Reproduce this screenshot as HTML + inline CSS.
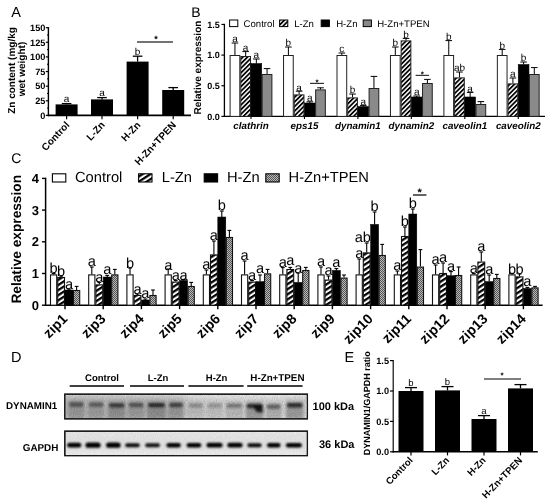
<!DOCTYPE html>
<html><head><meta charset="utf-8"><title>Figure</title>
<style>
html,body{margin:0;padding:0;background:#fff;}
body{width:550px;height:504px;overflow:hidden;font-family:"Liberation Sans",sans-serif;}
svg{display:block;font-family:"Liberation Sans",sans-serif;filter:blur(0.3px);}
</style></head><body>
<svg width="550" height="504" viewBox="0 0 550 504" text-rendering="geometricPrecision">
<defs>
<pattern id="hB" width="3.25" height="3.25" patternUnits="userSpaceOnUse" patternTransform="rotate(-45)">
<rect width="3.25" height="3.25" fill="#fff"/><rect y="0" width="3.25" height="1.75" fill="#000"/></pattern>
<pattern id="hC" width="4.28" height="4.28" patternUnits="userSpaceOnUse" patternTransform="rotate(-33)">
<rect width="4.28" height="4.28" fill="#fff"/><rect y="0" width="4.28" height="2.25" fill="#000"/></pattern>
<pattern id="dot" width="2" height="2" patternUnits="userSpaceOnUse">
<rect width="2" height="2" fill="#b8b8b8"/><rect width="1" height="1" fill="#555"/><rect x="1" y="1" width="1" height="1" fill="#555"/></pattern>
<filter id="bl1" x="-20%" y="-100%" width="140%" height="300%"><feGaussianBlur stdDeviation="1.3 1.2"/></filter>
<filter id="bl2" x="-20%" y="-100%" width="140%" height="300%"><feGaussianBlur stdDeviation="1.1 0.8"/></filter>
<filter id="bl3" x="-20%" y="-50%" width="140%" height="200%"><feGaussianBlur stdDeviation="1.7 2.4"/></filter>
<filter id="noise" x="0" y="0" width="100%" height="100%"><feTurbulence type="fractalNoise" baseFrequency="0.9" numOctaves="2" seed="3"/><feColorMatrix type="matrix" values="0 0 0 0 0  0 0 0 0 0  0 0 0 0 0  1.6 0 0 0 -0.35"/></filter>
<linearGradient id="bg1" x1="0" y1="0" x2="0" y2="1"><stop offset="0" stop-color="#e6e6e6"/><stop offset="0.22" stop-color="#cdcdcd"/><stop offset="0.75" stop-color="#c6c6c6"/><stop offset="1" stop-color="#d6d6d6"/></linearGradient>
<linearGradient id="bgh" x1="0" y1="0" x2="1" y2="0"><stop offset="0" stop-color="#888" stop-opacity="0.22"/><stop offset="0.45" stop-color="#888" stop-opacity="0.12"/><stop offset="0.52" stop-color="#fff" stop-opacity="0.25"/><stop offset="0.75" stop-color="#fff" stop-opacity="0.4"/><stop offset="1" stop-color="#fff" stop-opacity="0.3"/></linearGradient>
<linearGradient id="bg2" x1="0" y1="0" x2="0" y2="1"><stop offset="0" stop-color="#e9e9e9"/><stop offset="0.6" stop-color="#e4e4e4"/><stop offset="1" stop-color="#f0f0f0"/></linearGradient>
</defs>
<rect width="550" height="504" fill="#fff"/>

<g id="panelA">
<text x="11.20" y="17.20" font-size="14.5" font-weight="normal" font-style="normal" text-anchor="start" fill="#000" >A</text>
<line x1="48.40" y1="27.10" x2="48.40" y2="116.20" stroke="#000" stroke-width="1.4"/>
<line x1="47.70" y1="115.40" x2="191.00" y2="115.40" stroke="#000" stroke-width="1.6"/>
<line x1="45.80" y1="115.40" x2="48.40" y2="115.40" stroke="#000" stroke-width="1.2"/>
<text x="45.40" y="118.65" font-size="9.2" font-weight="bold" font-style="normal" text-anchor="end" fill="#000" >0</text>
<line x1="47.00" y1="108.10" x2="48.40" y2="108.10" stroke="#000" stroke-width="1.0"/>
<line x1="45.80" y1="100.78" x2="48.40" y2="100.78" stroke="#000" stroke-width="1.2"/>
<text x="45.40" y="104.03" font-size="9.2" font-weight="bold" font-style="normal" text-anchor="end" fill="#000" >25</text>
<line x1="47.00" y1="93.48" x2="48.40" y2="93.48" stroke="#000" stroke-width="1.0"/>
<line x1="45.80" y1="86.16" x2="48.40" y2="86.16" stroke="#000" stroke-width="1.2"/>
<text x="45.40" y="89.41" font-size="9.2" font-weight="bold" font-style="normal" text-anchor="end" fill="#000" >50</text>
<line x1="47.00" y1="78.86" x2="48.40" y2="78.86" stroke="#000" stroke-width="1.0"/>
<line x1="45.80" y1="71.54" x2="48.40" y2="71.54" stroke="#000" stroke-width="1.2"/>
<text x="45.40" y="74.79" font-size="9.2" font-weight="bold" font-style="normal" text-anchor="end" fill="#000" >75</text>
<line x1="47.00" y1="64.24" x2="48.40" y2="64.24" stroke="#000" stroke-width="1.0"/>
<line x1="45.80" y1="56.92" x2="48.40" y2="56.92" stroke="#000" stroke-width="1.2"/>
<text x="45.40" y="60.17" font-size="9.2" font-weight="bold" font-style="normal" text-anchor="end" fill="#000" >100</text>
<line x1="47.00" y1="49.62" x2="48.40" y2="49.62" stroke="#000" stroke-width="1.0"/>
<line x1="45.80" y1="42.30" x2="48.40" y2="42.30" stroke="#000" stroke-width="1.2"/>
<text x="45.40" y="45.55" font-size="9.2" font-weight="bold" font-style="normal" text-anchor="end" fill="#000" >125</text>
<line x1="47.00" y1="35.00" x2="48.40" y2="35.00" stroke="#000" stroke-width="1.0"/>
<line x1="45.80" y1="27.68" x2="48.40" y2="27.68" stroke="#000" stroke-width="1.2"/>
<text x="45.40" y="30.93" font-size="9.2" font-weight="bold" font-style="normal" text-anchor="end" fill="#000" >150</text>
<line x1="66.60" y1="103.60" x2="66.60" y2="104.40" stroke="#000" stroke-width="1.3"/>
<line x1="61.80" y1="103.60" x2="71.40" y2="103.60" stroke="#000" stroke-width="1.3"/>
<rect x="55.60" y="104.40" width="22.00" height="11.00" fill="#000" stroke="none" stroke-width="0"/>
<line x1="66.60" y1="115.40" x2="66.60" y2="119.20" stroke="#000" stroke-width="1.2"/>
<text x="66.60" y="102.40" font-size="10" font-weight="normal" font-style="normal" text-anchor="middle" fill="#000" >a</text>
<line x1="102.00" y1="97.60" x2="102.00" y2="99.40" stroke="#000" stroke-width="1.3"/>
<line x1="97.20" y1="97.60" x2="106.80" y2="97.60" stroke="#000" stroke-width="1.3"/>
<rect x="91.00" y="99.40" width="22.00" height="16.00" fill="#000" stroke="none" stroke-width="0"/>
<line x1="102.00" y1="115.40" x2="102.00" y2="119.20" stroke="#000" stroke-width="1.2"/>
<text x="102.00" y="96.40" font-size="10" font-weight="normal" font-style="normal" text-anchor="middle" fill="#000" >a</text>
<line x1="137.60" y1="56.20" x2="137.60" y2="61.60" stroke="#000" stroke-width="1.3"/>
<line x1="132.80" y1="56.20" x2="142.40" y2="56.20" stroke="#000" stroke-width="1.3"/>
<rect x="126.60" y="61.60" width="22.00" height="53.80" fill="#000" stroke="none" stroke-width="0"/>
<line x1="137.60" y1="115.40" x2="137.60" y2="119.20" stroke="#000" stroke-width="1.2"/>
<text x="137.60" y="55.00" font-size="10" font-weight="normal" font-style="normal" text-anchor="middle" fill="#000" >b</text>
<line x1="173.20" y1="87.60" x2="173.20" y2="90.00" stroke="#000" stroke-width="1.3"/>
<line x1="168.40" y1="87.60" x2="178.00" y2="87.60" stroke="#000" stroke-width="1.3"/>
<rect x="162.20" y="90.00" width="22.00" height="25.40" fill="#000" stroke="none" stroke-width="0"/>
<line x1="173.20" y1="115.40" x2="173.20" y2="119.20" stroke="#000" stroke-width="1.2"/>
<line x1="137.00" y1="42.00" x2="173.00" y2="42.00" stroke="#444" stroke-width="1.5"/>
<text x="156.00" y="41.60" font-size="9" font-weight="bold" font-style="normal" text-anchor="middle" fill="#000" >*</text>
<text transform="translate(70.10,125.40) rotate(-47) scale(1.0,1)" font-size="10" font-weight="bold" font-style="normal" text-anchor="end">Control</text>
<text transform="translate(105.50,125.40) rotate(-47) scale(1.0,1)" font-size="10" font-weight="bold" font-style="normal" text-anchor="end">L-Zn</text>
<text transform="translate(141.10,125.40) rotate(-47) scale(1.0,1)" font-size="10" font-weight="bold" font-style="normal" text-anchor="end">H-Zn</text>
<text transform="translate(176.70,125.40) rotate(-47) scale(1.0,1)" font-size="10" font-weight="bold" font-style="normal" text-anchor="end">H-Zn+TPEN</text>
<text transform="translate(14.60,70.50) rotate(-90) scale(1.0,1)" font-size="10" font-weight="bold" font-style="normal" text-anchor="middle">Zn content (mg/kg</text>
<text transform="translate(25.20,69.00) rotate(-90) scale(1.0,1)" font-size="10" font-weight="bold" font-style="normal" text-anchor="middle">wet weight)</text>
</g>
<g id="panelB">
<text x="191.20" y="16.80" font-size="14" font-weight="normal" font-style="normal" text-anchor="start" fill="#000" >B</text>
<line x1="224.40" y1="23.80" x2="224.40" y2="117.00" stroke="#000" stroke-width="1.3"/>
<line x1="223.80" y1="116.40" x2="545.00" y2="116.40" stroke="#000" stroke-width="1.4"/>
<line x1="221.40" y1="116.40" x2="224.40" y2="116.40" stroke="#000" stroke-width="1.2"/>
<text x="219.80" y="119.60" font-size="9" font-weight="bold" font-style="normal" text-anchor="end" fill="#000" >0.0</text>
<line x1="221.40" y1="85.75" x2="224.40" y2="85.75" stroke="#000" stroke-width="1.2"/>
<text x="219.80" y="88.95" font-size="9" font-weight="bold" font-style="normal" text-anchor="end" fill="#000" >0.5</text>
<line x1="221.40" y1="55.10" x2="224.40" y2="55.10" stroke="#000" stroke-width="1.2"/>
<text x="219.80" y="58.30" font-size="9" font-weight="bold" font-style="normal" text-anchor="end" fill="#000" >1.0</text>
<line x1="221.40" y1="24.45" x2="224.40" y2="24.45" stroke="#000" stroke-width="1.2"/>
<text x="219.80" y="27.65" font-size="9" font-weight="bold" font-style="normal" text-anchor="end" fill="#000" >1.5</text>
<text transform="translate(201.20,67.60) rotate(-90) scale(1.0,1)" font-size="10" font-weight="bold" font-style="normal" text-anchor="middle">Relative expression</text>
<rect x="229.60" y="20.00" width="8.20" height="6.60" fill="#fff" stroke="#000" stroke-width="1.0"/>
<text x="243.60" y="26.80" font-size="9.6" font-weight="normal" font-style="normal" text-anchor="start" fill="#000" >Control</text>
<rect x="279.60" y="20.00" width="8.20" height="6.60" fill="url(#hB)" stroke="#000" stroke-width="1.0"/>
<text x="294.20" y="26.80" font-size="9.6" font-weight="normal" font-style="normal" text-anchor="start" fill="#000" >L-Zn</text>
<rect x="321.20" y="20.00" width="8.20" height="6.60" fill="#000" stroke="#000" stroke-width="1.0"/>
<text x="336.20" y="26.80" font-size="9.6" font-weight="normal" font-style="normal" text-anchor="start" fill="#000" >H-Zn</text>
<rect x="363.20" y="20.00" width="8.20" height="6.60" fill="#888" stroke="#000" stroke-width="1.0"/>
<text x="377.20" y="26.80" font-size="9.6" font-weight="normal" font-style="normal" text-anchor="start" fill="#000" >H-Zn+TPEN</text>
<line x1="234.95" y1="43.00" x2="234.95" y2="55.00" stroke="#000" stroke-width="1.0"/>
<line x1="231.65" y1="43.00" x2="238.25" y2="43.00" stroke="#000" stroke-width="1.0"/>
<rect x="230.10" y="55.50" width="9.70" height="60.90" fill="#fff" stroke="#222" stroke-width="1.0"/>
<text x="234.95" y="42.40" font-size="10" font-weight="normal" font-style="normal" text-anchor="middle" fill="#000" >a</text>
<line x1="245.65" y1="51.60" x2="245.65" y2="56.00" stroke="#000" stroke-width="1.0"/>
<line x1="242.35" y1="51.60" x2="248.95" y2="51.60" stroke="#000" stroke-width="1.0"/>
<rect x="240.80" y="56.50" width="9.70" height="59.90" fill="url(#hB)" stroke="#222" stroke-width="1.0"/>
<text x="245.65" y="51.00" font-size="10" font-weight="normal" font-style="normal" text-anchor="middle" fill="#000" >a</text>
<line x1="256.35" y1="59.00" x2="256.35" y2="63.60" stroke="#000" stroke-width="1.0"/>
<line x1="253.05" y1="59.00" x2="259.65" y2="59.00" stroke="#000" stroke-width="1.0"/>
<rect x="251.00" y="63.60" width="10.70" height="52.80" fill="#000" stroke="#000" stroke-width="0.6"/>
<text x="256.35" y="58.40" font-size="10" font-weight="normal" font-style="normal" text-anchor="middle" fill="#000" >a</text>
<line x1="267.05" y1="68.60" x2="267.05" y2="74.00" stroke="#000" stroke-width="1.0"/>
<line x1="263.75" y1="68.60" x2="270.35" y2="68.60" stroke="#000" stroke-width="1.0"/>
<rect x="262.20" y="74.50" width="9.70" height="41.90" fill="#8a8a8a" stroke="#222" stroke-width="1.0"/>
<line x1="251.00" y1="116.40" x2="251.00" y2="119.00" stroke="#000" stroke-width="1.1"/>
<text x="251.00" y="129.00" font-size="9.8" font-weight="bold" font-style="italic" text-anchor="middle" fill="#000" >clathrin</text>
<line x1="288.40" y1="47.00" x2="288.40" y2="55.00" stroke="#000" stroke-width="1.0"/>
<line x1="285.10" y1="47.00" x2="291.70" y2="47.00" stroke="#000" stroke-width="1.0"/>
<rect x="283.55" y="55.50" width="9.70" height="60.90" fill="#fff" stroke="#222" stroke-width="1.0"/>
<text x="288.40" y="46.40" font-size="10" font-weight="normal" font-style="normal" text-anchor="middle" fill="#000" >b</text>
<line x1="299.10" y1="91.20" x2="299.10" y2="94.40" stroke="#000" stroke-width="1.0"/>
<line x1="295.80" y1="91.20" x2="302.40" y2="91.20" stroke="#000" stroke-width="1.0"/>
<rect x="294.25" y="94.90" width="9.70" height="21.50" fill="url(#hB)" stroke="#222" stroke-width="1.0"/>
<text x="299.10" y="90.60" font-size="10" font-weight="normal" font-style="normal" text-anchor="middle" fill="#000" >a</text>
<line x1="309.80" y1="101.80" x2="309.80" y2="103.00" stroke="#000" stroke-width="1.0"/>
<line x1="306.50" y1="101.80" x2="313.10" y2="101.80" stroke="#000" stroke-width="1.0"/>
<rect x="304.45" y="103.00" width="10.70" height="13.40" fill="#000" stroke="#000" stroke-width="0.6"/>
<text x="309.80" y="101.20" font-size="10" font-weight="normal" font-style="normal" text-anchor="middle" fill="#000" >a</text>
<line x1="320.50" y1="87.80" x2="320.50" y2="89.40" stroke="#000" stroke-width="1.0"/>
<line x1="317.20" y1="87.80" x2="323.80" y2="87.80" stroke="#000" stroke-width="1.0"/>
<rect x="315.65" y="89.90" width="9.70" height="26.50" fill="#8a8a8a" stroke="#222" stroke-width="1.0"/>
<line x1="304.45" y1="116.40" x2="304.45" y2="119.00" stroke="#000" stroke-width="1.1"/>
<text x="304.45" y="129.00" font-size="9.8" font-weight="bold" font-style="italic" text-anchor="middle" fill="#000" >eps15</text>
<line x1="341.85" y1="53.00" x2="341.85" y2="55.00" stroke="#000" stroke-width="1.0"/>
<line x1="338.55" y1="53.00" x2="345.15" y2="53.00" stroke="#000" stroke-width="1.0"/>
<rect x="337.00" y="55.50" width="9.70" height="60.90" fill="#fff" stroke="#222" stroke-width="1.0"/>
<text x="341.85" y="52.40" font-size="10" font-weight="normal" font-style="normal" text-anchor="middle" fill="#000" >c</text>
<line x1="352.55" y1="94.00" x2="352.55" y2="97.40" stroke="#000" stroke-width="1.0"/>
<line x1="349.25" y1="94.00" x2="355.85" y2="94.00" stroke="#000" stroke-width="1.0"/>
<rect x="347.70" y="97.90" width="9.70" height="18.50" fill="url(#hB)" stroke="#222" stroke-width="1.0"/>
<text x="352.55" y="93.40" font-size="10" font-weight="normal" font-style="normal" text-anchor="middle" fill="#000" >b</text>
<line x1="363.25" y1="105.40" x2="363.25" y2="106.60" stroke="#000" stroke-width="1.0"/>
<line x1="359.95" y1="105.40" x2="366.55" y2="105.40" stroke="#000" stroke-width="1.0"/>
<rect x="357.90" y="106.60" width="10.70" height="9.80" fill="#000" stroke="#000" stroke-width="0.6"/>
<text x="363.25" y="104.80" font-size="10" font-weight="normal" font-style="normal" text-anchor="middle" fill="#000" >a</text>
<line x1="373.95" y1="76.40" x2="373.95" y2="88.00" stroke="#000" stroke-width="1.0"/>
<line x1="370.65" y1="76.40" x2="377.25" y2="76.40" stroke="#000" stroke-width="1.0"/>
<rect x="369.10" y="88.50" width="9.70" height="27.90" fill="#8a8a8a" stroke="#222" stroke-width="1.0"/>
<line x1="357.90" y1="116.40" x2="357.90" y2="119.00" stroke="#000" stroke-width="1.1"/>
<text x="357.90" y="129.00" font-size="9.8" font-weight="bold" font-style="italic" text-anchor="middle" fill="#000" >dynamin1</text>
<line x1="395.30" y1="47.00" x2="395.30" y2="55.00" stroke="#000" stroke-width="1.0"/>
<line x1="392.00" y1="47.00" x2="398.60" y2="47.00" stroke="#000" stroke-width="1.0"/>
<rect x="390.45" y="55.50" width="9.70" height="60.90" fill="#fff" stroke="#222" stroke-width="1.0"/>
<text x="395.30" y="46.40" font-size="10" font-weight="normal" font-style="normal" text-anchor="middle" fill="#000" >b</text>
<line x1="406.00" y1="38.40" x2="406.00" y2="40.40" stroke="#000" stroke-width="1.0"/>
<line x1="402.70" y1="38.40" x2="409.30" y2="38.40" stroke="#000" stroke-width="1.0"/>
<rect x="401.15" y="40.90" width="9.70" height="75.50" fill="url(#hB)" stroke="#222" stroke-width="1.0"/>
<text x="406.00" y="37.80" font-size="10" font-weight="normal" font-style="normal" text-anchor="middle" fill="#000" >b</text>
<line x1="416.70" y1="96.00" x2="416.70" y2="97.00" stroke="#000" stroke-width="1.0"/>
<line x1="413.40" y1="96.00" x2="420.00" y2="96.00" stroke="#000" stroke-width="1.0"/>
<rect x="411.35" y="97.00" width="10.70" height="19.40" fill="#000" stroke="#000" stroke-width="0.6"/>
<text x="416.70" y="95.40" font-size="10" font-weight="normal" font-style="normal" text-anchor="middle" fill="#000" >a</text>
<line x1="427.40" y1="79.40" x2="427.40" y2="83.00" stroke="#000" stroke-width="1.0"/>
<line x1="424.10" y1="79.40" x2="430.70" y2="79.40" stroke="#000" stroke-width="1.0"/>
<rect x="422.55" y="83.50" width="9.70" height="32.90" fill="#8a8a8a" stroke="#222" stroke-width="1.0"/>
<line x1="411.35" y1="116.40" x2="411.35" y2="119.00" stroke="#000" stroke-width="1.1"/>
<text x="411.35" y="129.00" font-size="9.8" font-weight="bold" font-style="italic" text-anchor="middle" fill="#000" >dynamin2</text>
<line x1="448.75" y1="40.60" x2="448.75" y2="55.00" stroke="#000" stroke-width="1.0"/>
<line x1="445.45" y1="40.60" x2="452.05" y2="40.60" stroke="#000" stroke-width="1.0"/>
<rect x="443.90" y="55.50" width="9.70" height="60.90" fill="#fff" stroke="#222" stroke-width="1.0"/>
<text x="448.75" y="40.00" font-size="10" font-weight="normal" font-style="normal" text-anchor="middle" fill="#000" >b</text>
<line x1="459.45" y1="72.00" x2="459.45" y2="77.40" stroke="#000" stroke-width="1.0"/>
<line x1="456.15" y1="72.00" x2="462.75" y2="72.00" stroke="#000" stroke-width="1.0"/>
<rect x="454.60" y="77.90" width="9.70" height="38.50" fill="url(#hB)" stroke="#222" stroke-width="1.0"/>
<text x="459.45" y="71.40" font-size="10" font-weight="normal" font-style="normal" text-anchor="middle" fill="#000" >ab</text>
<line x1="470.15" y1="92.40" x2="470.15" y2="97.00" stroke="#000" stroke-width="1.0"/>
<line x1="466.85" y1="92.40" x2="473.45" y2="92.40" stroke="#000" stroke-width="1.0"/>
<rect x="464.80" y="97.00" width="10.70" height="19.40" fill="#000" stroke="#000" stroke-width="0.6"/>
<text x="470.15" y="91.80" font-size="10" font-weight="normal" font-style="normal" text-anchor="middle" fill="#000" >a</text>
<line x1="480.85" y1="101.60" x2="480.85" y2="104.00" stroke="#000" stroke-width="1.0"/>
<line x1="477.55" y1="101.60" x2="484.15" y2="101.60" stroke="#000" stroke-width="1.0"/>
<rect x="476.00" y="104.50" width="9.70" height="11.90" fill="#8a8a8a" stroke="#222" stroke-width="1.0"/>
<line x1="464.80" y1="116.40" x2="464.80" y2="119.00" stroke="#000" stroke-width="1.1"/>
<text x="464.80" y="129.00" font-size="9.8" font-weight="bold" font-style="italic" text-anchor="middle" fill="#000" >caveolin1</text>
<line x1="502.20" y1="49.40" x2="502.20" y2="55.00" stroke="#000" stroke-width="1.0"/>
<line x1="498.90" y1="49.40" x2="505.50" y2="49.40" stroke="#000" stroke-width="1.0"/>
<rect x="497.35" y="55.50" width="9.70" height="60.90" fill="#fff" stroke="#222" stroke-width="1.0"/>
<text x="502.20" y="48.80" font-size="10" font-weight="normal" font-style="normal" text-anchor="middle" fill="#000" >b</text>
<line x1="512.90" y1="78.00" x2="512.90" y2="83.40" stroke="#000" stroke-width="1.0"/>
<line x1="509.60" y1="78.00" x2="516.20" y2="78.00" stroke="#000" stroke-width="1.0"/>
<rect x="508.05" y="83.90" width="9.70" height="32.50" fill="url(#hB)" stroke="#222" stroke-width="1.0"/>
<text x="512.90" y="77.40" font-size="10" font-weight="normal" font-style="normal" text-anchor="middle" fill="#000" >a</text>
<line x1="523.60" y1="62.00" x2="523.60" y2="64.60" stroke="#000" stroke-width="1.0"/>
<line x1="520.30" y1="62.00" x2="526.90" y2="62.00" stroke="#000" stroke-width="1.0"/>
<rect x="518.25" y="64.60" width="10.70" height="51.80" fill="#000" stroke="#000" stroke-width="0.6"/>
<text x="523.60" y="61.40" font-size="10" font-weight="normal" font-style="normal" text-anchor="middle" fill="#000" >b</text>
<line x1="534.30" y1="67.60" x2="534.30" y2="74.00" stroke="#000" stroke-width="1.0"/>
<line x1="531.00" y1="67.60" x2="537.60" y2="67.60" stroke="#000" stroke-width="1.0"/>
<rect x="529.45" y="74.50" width="9.70" height="41.90" fill="#8a8a8a" stroke="#222" stroke-width="1.0"/>
<line x1="518.25" y1="116.40" x2="518.25" y2="119.00" stroke="#000" stroke-width="1.1"/>
<text x="518.25" y="129.00" font-size="9.8" font-weight="bold" font-style="italic" text-anchor="middle" fill="#000" >caveolin2</text>
<line x1="310.00" y1="83.40" x2="324.00" y2="83.40" stroke="#333" stroke-width="1.2"/>
<text x="317.00" y="84.60" font-size="8" font-weight="bold" font-style="normal" text-anchor="middle" fill="#000" >*</text>
<line x1="415.60" y1="75.40" x2="429.00" y2="75.40" stroke="#333" stroke-width="1.2"/>
<text x="422.40" y="76.60" font-size="8" font-weight="bold" font-style="normal" text-anchor="middle" fill="#000" >*</text>
</g>
<g id="panelC">
<text x="11.20" y="163.20" font-size="14" font-weight="normal" font-style="normal" text-anchor="start" fill="#000" >C</text>
<line x1="45.60" y1="177.70" x2="45.60" y2="306.00" stroke="#000" stroke-width="1.5"/>
<line x1="44.90" y1="305.20" x2="542.60" y2="305.20" stroke="#000" stroke-width="1.6"/>
<line x1="42.00" y1="305.20" x2="45.60" y2="305.20" stroke="#000" stroke-width="1.4"/>
<text x="39.00" y="309.80" font-size="13" font-weight="bold" font-style="normal" text-anchor="end" fill="#000" >0</text>
<line x1="42.00" y1="273.50" x2="45.60" y2="273.50" stroke="#000" stroke-width="1.4"/>
<text x="39.00" y="278.10" font-size="13" font-weight="bold" font-style="normal" text-anchor="end" fill="#000" >1</text>
<line x1="42.00" y1="241.80" x2="45.60" y2="241.80" stroke="#000" stroke-width="1.4"/>
<text x="39.00" y="246.40" font-size="13" font-weight="bold" font-style="normal" text-anchor="end" fill="#000" >2</text>
<line x1="42.00" y1="210.10" x2="45.60" y2="210.10" stroke="#000" stroke-width="1.4"/>
<text x="39.00" y="214.70" font-size="13" font-weight="bold" font-style="normal" text-anchor="end" fill="#000" >3</text>
<line x1="42.00" y1="178.40" x2="45.60" y2="178.40" stroke="#000" stroke-width="1.4"/>
<text x="39.00" y="183.00" font-size="13" font-weight="bold" font-style="normal" text-anchor="end" fill="#000" >4</text>
<text transform="translate(20.50,239.30) rotate(-90) scale(1.0,1)" font-size="13.7" font-weight="bold" font-style="normal" text-anchor="middle">Relative expression</text>
<rect x="52.40" y="173.80" width="13.40" height="8.20" fill="#fff" stroke="#000" stroke-width="1.1"/>
<text x="75.00" y="182.30" font-size="14.7" font-weight="normal" font-style="normal" text-anchor="start" fill="#000" >Control</text>
<rect x="138.60" y="173.80" width="13.40" height="8.20" fill="url(#hC)" stroke="#000" stroke-width="1.1"/>
<text x="161.80" y="182.30" font-size="14.7" font-weight="normal" font-style="normal" text-anchor="start" fill="#000" >L-Zn</text>
<rect x="204.20" y="173.80" width="13.40" height="8.20" fill="#000" stroke="#000" stroke-width="1.1"/>
<text x="227.00" y="182.30" font-size="14.7" font-weight="normal" font-style="normal" text-anchor="start" fill="#000" >H-Zn</text>
<rect x="265.80" y="173.80" width="13.40" height="8.20" fill="url(#dot)" stroke="#000" stroke-width="1.1"/>
<text x="288.60" y="182.30" font-size="14.7" font-weight="normal" font-style="normal" text-anchor="start" fill="#000" >H-Zn+TPEN</text>
<line x1="53.60" y1="273.40" x2="53.60" y2="274.40" stroke="#000" stroke-width="1.1"/>
<line x1="51.70" y1="273.40" x2="55.50" y2="273.40" stroke="#000" stroke-width="1.1"/>
<rect x="50.50" y="274.90" width="6.20" height="30.30" fill="#fff" stroke="#111" stroke-width="1.1"/>
<line x1="61.10" y1="276.00" x2="61.10" y2="277.00" stroke="#000" stroke-width="1.1"/>
<line x1="59.20" y1="276.00" x2="63.00" y2="276.00" stroke="#000" stroke-width="1.1"/>
<rect x="57.70" y="277.50" width="6.80" height="27.70" fill="url(#hC)" stroke="#111" stroke-width="1.1"/>
<line x1="69.00" y1="289.00" x2="69.00" y2="290.00" stroke="#000" stroke-width="1.1"/>
<line x1="67.10" y1="289.00" x2="70.90" y2="289.00" stroke="#000" stroke-width="1.1"/>
<rect x="65.00" y="290.00" width="8.00" height="15.20" fill="#000" stroke="#000" stroke-width="0.5"/>
<line x1="76.60" y1="286.40" x2="76.60" y2="290.00" stroke="#000" stroke-width="1.1"/>
<line x1="74.70" y1="286.40" x2="78.50" y2="286.40" stroke="#000" stroke-width="1.1"/>
<rect x="73.50" y="290.50" width="6.20" height="14.70" fill="url(#dot)" stroke="#111" stroke-width="1.1"/>
<text x="53.60" y="273.00" font-size="14.6" font-weight="normal" font-style="normal" text-anchor="middle" fill="#000" >b</text>
<text x="61.10" y="276.40" font-size="14.6" font-weight="normal" font-style="normal" text-anchor="middle" fill="#000" >b</text>
<text x="69.00" y="289.00" font-size="14.6" font-weight="normal" font-style="normal" text-anchor="middle" fill="#000" >a</text>
<line x1="65.00" y1="305.20" x2="65.00" y2="309.20" stroke="#000" stroke-width="1.4"/>
<text transform="translate(68.30,319.70) rotate(-45) scale(1.0,1)" font-size="14.1" font-weight="bold" font-style="normal" text-anchor="end">zip1</text>
<line x1="91.80" y1="267.00" x2="91.80" y2="274.40" stroke="#000" stroke-width="1.1"/>
<line x1="89.90" y1="267.00" x2="93.70" y2="267.00" stroke="#000" stroke-width="1.1"/>
<rect x="88.70" y="274.90" width="6.20" height="30.30" fill="#fff" stroke="#111" stroke-width="1.1"/>
<line x1="99.30" y1="282.40" x2="99.30" y2="284.40" stroke="#000" stroke-width="1.1"/>
<line x1="97.40" y1="282.40" x2="101.20" y2="282.40" stroke="#000" stroke-width="1.1"/>
<rect x="95.90" y="284.90" width="6.80" height="20.30" fill="url(#hC)" stroke="#111" stroke-width="1.1"/>
<line x1="107.20" y1="275.40" x2="107.20" y2="277.00" stroke="#000" stroke-width="1.1"/>
<line x1="105.30" y1="275.40" x2="109.10" y2="275.40" stroke="#000" stroke-width="1.1"/>
<rect x="103.20" y="277.00" width="8.00" height="28.20" fill="#000" stroke="#000" stroke-width="0.5"/>
<line x1="114.80" y1="269.40" x2="114.80" y2="274.40" stroke="#000" stroke-width="1.1"/>
<line x1="112.90" y1="269.40" x2="116.70" y2="269.40" stroke="#000" stroke-width="1.1"/>
<rect x="111.70" y="274.90" width="6.20" height="30.30" fill="url(#dot)" stroke="#111" stroke-width="1.1"/>
<text x="91.80" y="266.00" font-size="14.6" font-weight="normal" font-style="normal" text-anchor="middle" fill="#000" >a</text>
<text x="99.30" y="281.60" font-size="14.6" font-weight="normal" font-style="normal" text-anchor="middle" fill="#000" >a</text>
<text x="107.20" y="273.60" font-size="14.6" font-weight="normal" font-style="normal" text-anchor="middle" fill="#000" >a</text>
<line x1="103.20" y1="305.20" x2="103.20" y2="309.20" stroke="#000" stroke-width="1.4"/>
<text transform="translate(106.50,319.70) rotate(-45) scale(1.0,1)" font-size="14.1" font-weight="bold" font-style="normal" text-anchor="end">zip3</text>
<line x1="130.00" y1="268.00" x2="130.00" y2="274.40" stroke="#000" stroke-width="1.1"/>
<line x1="128.10" y1="268.00" x2="131.90" y2="268.00" stroke="#000" stroke-width="1.1"/>
<rect x="126.90" y="274.90" width="6.20" height="30.30" fill="#fff" stroke="#111" stroke-width="1.1"/>
<line x1="137.50" y1="294.00" x2="137.50" y2="295.00" stroke="#000" stroke-width="1.1"/>
<line x1="135.60" y1="294.00" x2="139.40" y2="294.00" stroke="#000" stroke-width="1.1"/>
<rect x="134.10" y="295.50" width="6.80" height="9.70" fill="url(#hC)" stroke="#111" stroke-width="1.1"/>
<line x1="145.40" y1="299.00" x2="145.40" y2="300.00" stroke="#000" stroke-width="1.1"/>
<line x1="143.50" y1="299.00" x2="147.30" y2="299.00" stroke="#000" stroke-width="1.1"/>
<rect x="141.40" y="300.00" width="8.00" height="5.20" fill="#000" stroke="#000" stroke-width="0.5"/>
<line x1="153.00" y1="290.00" x2="153.00" y2="295.00" stroke="#000" stroke-width="1.1"/>
<line x1="151.10" y1="290.00" x2="154.90" y2="290.00" stroke="#000" stroke-width="1.1"/>
<rect x="149.90" y="295.50" width="6.20" height="9.70" fill="url(#dot)" stroke="#111" stroke-width="1.1"/>
<text x="130.00" y="268.00" font-size="14.6" font-weight="normal" font-style="normal" text-anchor="middle" fill="#000" >b</text>
<text x="137.50" y="294.00" font-size="14.6" font-weight="normal" font-style="normal" text-anchor="middle" fill="#000" >a</text>
<text x="145.40" y="298.40" font-size="14.6" font-weight="normal" font-style="normal" text-anchor="middle" fill="#000" >a</text>
<line x1="141.40" y1="305.20" x2="141.40" y2="309.20" stroke="#000" stroke-width="1.4"/>
<text transform="translate(144.70,319.70) rotate(-45) scale(1.0,1)" font-size="14.1" font-weight="bold" font-style="normal" text-anchor="end">zip4</text>
<line x1="168.20" y1="269.00" x2="168.20" y2="274.40" stroke="#000" stroke-width="1.1"/>
<line x1="166.30" y1="269.00" x2="170.10" y2="269.00" stroke="#000" stroke-width="1.1"/>
<rect x="165.10" y="274.90" width="6.20" height="30.30" fill="#fff" stroke="#111" stroke-width="1.1"/>
<line x1="175.70" y1="280.40" x2="175.70" y2="281.60" stroke="#000" stroke-width="1.1"/>
<line x1="173.80" y1="280.40" x2="177.60" y2="280.40" stroke="#000" stroke-width="1.1"/>
<rect x="172.30" y="282.10" width="6.80" height="23.10" fill="url(#hC)" stroke="#111" stroke-width="1.1"/>
<line x1="183.60" y1="279.40" x2="183.60" y2="280.40" stroke="#000" stroke-width="1.1"/>
<line x1="181.70" y1="279.40" x2="185.50" y2="279.40" stroke="#000" stroke-width="1.1"/>
<rect x="179.60" y="280.40" width="8.00" height="24.80" fill="#000" stroke="#000" stroke-width="0.5"/>
<line x1="191.20" y1="282.40" x2="191.20" y2="286.00" stroke="#000" stroke-width="1.1"/>
<line x1="189.30" y1="282.40" x2="193.10" y2="282.40" stroke="#000" stroke-width="1.1"/>
<rect x="188.10" y="286.50" width="6.20" height="18.70" fill="url(#dot)" stroke="#111" stroke-width="1.1"/>
<text x="168.20" y="270.00" font-size="14.6" font-weight="normal" font-style="normal" text-anchor="middle" fill="#000" >a</text>
<text x="175.70" y="280.00" font-size="14.6" font-weight="normal" font-style="normal" text-anchor="middle" fill="#000" >a</text>
<text x="183.60" y="280.00" font-size="14.6" font-weight="normal" font-style="normal" text-anchor="middle" fill="#000" >a</text>
<line x1="179.60" y1="305.20" x2="179.60" y2="309.20" stroke="#000" stroke-width="1.4"/>
<text transform="translate(182.90,319.70) rotate(-45) scale(1.0,1)" font-size="14.1" font-weight="bold" font-style="normal" text-anchor="end">zip5</text>
<line x1="206.40" y1="270.00" x2="206.40" y2="274.40" stroke="#000" stroke-width="1.1"/>
<line x1="204.50" y1="270.00" x2="208.30" y2="270.00" stroke="#000" stroke-width="1.1"/>
<rect x="203.30" y="274.90" width="6.20" height="30.30" fill="#fff" stroke="#111" stroke-width="1.1"/>
<line x1="213.90" y1="241.00" x2="213.90" y2="254.40" stroke="#000" stroke-width="1.1"/>
<line x1="212.00" y1="241.00" x2="215.80" y2="241.00" stroke="#000" stroke-width="1.1"/>
<rect x="210.50" y="254.90" width="6.80" height="50.30" fill="url(#hC)" stroke="#111" stroke-width="1.1"/>
<line x1="221.80" y1="211.00" x2="221.80" y2="217.00" stroke="#000" stroke-width="1.1"/>
<line x1="219.90" y1="211.00" x2="223.70" y2="211.00" stroke="#000" stroke-width="1.1"/>
<rect x="217.80" y="217.00" width="8.00" height="88.20" fill="#000" stroke="#000" stroke-width="0.5"/>
<line x1="229.40" y1="230.40" x2="229.40" y2="237.00" stroke="#000" stroke-width="1.1"/>
<line x1="227.50" y1="230.40" x2="231.30" y2="230.40" stroke="#000" stroke-width="1.1"/>
<rect x="226.30" y="237.50" width="6.20" height="67.70" fill="url(#dot)" stroke="#111" stroke-width="1.1"/>
<text x="206.40" y="269.00" font-size="14.6" font-weight="normal" font-style="normal" text-anchor="middle" fill="#000" >a</text>
<text x="213.90" y="240.00" font-size="14.6" font-weight="normal" font-style="normal" text-anchor="middle" fill="#000" >a</text>
<text x="221.80" y="210.00" font-size="14.6" font-weight="normal" font-style="normal" text-anchor="middle" fill="#000" >b</text>
<line x1="217.80" y1="305.20" x2="217.80" y2="309.20" stroke="#000" stroke-width="1.4"/>
<text transform="translate(221.10,319.70) rotate(-45) scale(1.0,1)" font-size="14.1" font-weight="bold" font-style="normal" text-anchor="end">zip6</text>
<line x1="244.60" y1="261.00" x2="244.60" y2="274.40" stroke="#000" stroke-width="1.1"/>
<line x1="242.70" y1="261.00" x2="246.50" y2="261.00" stroke="#000" stroke-width="1.1"/>
<rect x="241.50" y="274.90" width="6.20" height="30.30" fill="#fff" stroke="#111" stroke-width="1.1"/>
<line x1="252.10" y1="280.40" x2="252.10" y2="281.60" stroke="#000" stroke-width="1.1"/>
<line x1="250.20" y1="280.40" x2="254.00" y2="280.40" stroke="#000" stroke-width="1.1"/>
<rect x="248.70" y="282.10" width="6.80" height="23.10" fill="url(#hC)" stroke="#111" stroke-width="1.1"/>
<line x1="260.00" y1="275.00" x2="260.00" y2="281.60" stroke="#000" stroke-width="1.1"/>
<line x1="258.10" y1="275.00" x2="261.90" y2="275.00" stroke="#000" stroke-width="1.1"/>
<rect x="256.00" y="281.60" width="8.00" height="23.60" fill="#000" stroke="#000" stroke-width="0.5"/>
<line x1="267.60" y1="269.40" x2="267.60" y2="273.40" stroke="#000" stroke-width="1.1"/>
<line x1="265.70" y1="269.40" x2="269.50" y2="269.40" stroke="#000" stroke-width="1.1"/>
<rect x="264.50" y="273.90" width="6.20" height="31.30" fill="url(#dot)" stroke="#111" stroke-width="1.1"/>
<text x="244.60" y="260.40" font-size="14.6" font-weight="normal" font-style="normal" text-anchor="middle" fill="#000" >a</text>
<text x="252.10" y="280.00" font-size="14.6" font-weight="normal" font-style="normal" text-anchor="middle" fill="#000" >a</text>
<text x="260.00" y="273.40" font-size="14.6" font-weight="normal" font-style="normal" text-anchor="middle" fill="#000" >a</text>
<line x1="256.00" y1="305.20" x2="256.00" y2="309.20" stroke="#000" stroke-width="1.4"/>
<text transform="translate(259.30,319.70) rotate(-45) scale(1.0,1)" font-size="14.1" font-weight="bold" font-style="normal" text-anchor="end">zip7</text>
<line x1="282.80" y1="267.60" x2="282.80" y2="274.40" stroke="#000" stroke-width="1.1"/>
<line x1="280.90" y1="267.60" x2="284.70" y2="267.60" stroke="#000" stroke-width="1.1"/>
<rect x="279.70" y="274.90" width="6.20" height="30.30" fill="#fff" stroke="#111" stroke-width="1.1"/>
<line x1="290.30" y1="267.40" x2="290.30" y2="269.00" stroke="#000" stroke-width="1.1"/>
<line x1="288.40" y1="267.40" x2="292.20" y2="267.40" stroke="#000" stroke-width="1.1"/>
<rect x="286.90" y="269.50" width="6.80" height="35.70" fill="url(#hC)" stroke="#111" stroke-width="1.1"/>
<line x1="298.20" y1="273.00" x2="298.20" y2="282.40" stroke="#000" stroke-width="1.1"/>
<line x1="296.30" y1="273.00" x2="300.10" y2="273.00" stroke="#000" stroke-width="1.1"/>
<rect x="294.20" y="282.40" width="8.00" height="22.80" fill="#000" stroke="#000" stroke-width="0.5"/>
<line x1="305.80" y1="267.40" x2="305.80" y2="270.00" stroke="#000" stroke-width="1.1"/>
<line x1="303.90" y1="267.40" x2="307.70" y2="267.40" stroke="#000" stroke-width="1.1"/>
<rect x="302.70" y="270.50" width="6.20" height="34.70" fill="url(#dot)" stroke="#111" stroke-width="1.1"/>
<text x="282.80" y="267.40" font-size="14.6" font-weight="normal" font-style="normal" text-anchor="middle" fill="#000" >a</text>
<text x="290.30" y="265.40" font-size="14.6" font-weight="normal" font-style="normal" text-anchor="middle" fill="#000" >a</text>
<text x="298.20" y="273.00" font-size="14.6" font-weight="normal" font-style="normal" text-anchor="middle" fill="#000" >a</text>
<line x1="294.20" y1="305.20" x2="294.20" y2="309.20" stroke="#000" stroke-width="1.4"/>
<text transform="translate(297.50,319.70) rotate(-45) scale(1.0,1)" font-size="14.1" font-weight="bold" font-style="normal" text-anchor="end">zip8</text>
<line x1="321.00" y1="267.00" x2="321.00" y2="274.40" stroke="#000" stroke-width="1.1"/>
<line x1="319.10" y1="267.00" x2="322.90" y2="267.00" stroke="#000" stroke-width="1.1"/>
<rect x="317.90" y="274.90" width="6.20" height="30.30" fill="#fff" stroke="#111" stroke-width="1.1"/>
<line x1="328.50" y1="276.00" x2="328.50" y2="279.60" stroke="#000" stroke-width="1.1"/>
<line x1="326.60" y1="276.00" x2="330.40" y2="276.00" stroke="#000" stroke-width="1.1"/>
<rect x="325.10" y="280.10" width="6.80" height="25.10" fill="url(#hC)" stroke="#111" stroke-width="1.1"/>
<line x1="336.40" y1="268.60" x2="336.40" y2="270.40" stroke="#000" stroke-width="1.1"/>
<line x1="334.50" y1="268.60" x2="338.30" y2="268.60" stroke="#000" stroke-width="1.1"/>
<rect x="332.40" y="270.40" width="8.00" height="34.80" fill="#000" stroke="#000" stroke-width="0.5"/>
<line x1="344.00" y1="275.00" x2="344.00" y2="277.60" stroke="#000" stroke-width="1.1"/>
<line x1="342.10" y1="275.00" x2="345.90" y2="275.00" stroke="#000" stroke-width="1.1"/>
<rect x="340.90" y="278.10" width="6.20" height="27.10" fill="url(#dot)" stroke="#111" stroke-width="1.1"/>
<text x="321.00" y="266.00" font-size="14.6" font-weight="normal" font-style="normal" text-anchor="middle" fill="#000" >a</text>
<text x="328.50" y="275.40" font-size="14.6" font-weight="normal" font-style="normal" text-anchor="middle" fill="#000" >a</text>
<text x="336.40" y="267.00" font-size="14.6" font-weight="normal" font-style="normal" text-anchor="middle" fill="#000" >a</text>
<line x1="332.40" y1="305.20" x2="332.40" y2="309.20" stroke="#000" stroke-width="1.4"/>
<text transform="translate(335.70,319.70) rotate(-45) scale(1.0,1)" font-size="14.1" font-weight="bold" font-style="normal" text-anchor="end">zip9</text>
<line x1="359.20" y1="259.00" x2="359.20" y2="274.40" stroke="#000" stroke-width="1.1"/>
<line x1="357.30" y1="259.00" x2="361.10" y2="259.00" stroke="#000" stroke-width="1.1"/>
<rect x="356.10" y="274.90" width="6.20" height="30.30" fill="#fff" stroke="#111" stroke-width="1.1"/>
<line x1="366.70" y1="243.00" x2="366.70" y2="252.40" stroke="#000" stroke-width="1.1"/>
<line x1="364.80" y1="243.00" x2="368.60" y2="243.00" stroke="#000" stroke-width="1.1"/>
<rect x="363.30" y="252.90" width="6.80" height="52.30" fill="url(#hC)" stroke="#111" stroke-width="1.1"/>
<line x1="374.60" y1="212.00" x2="374.60" y2="224.40" stroke="#000" stroke-width="1.1"/>
<line x1="372.70" y1="212.00" x2="376.50" y2="212.00" stroke="#000" stroke-width="1.1"/>
<rect x="370.60" y="224.40" width="8.00" height="80.80" fill="#000" stroke="#000" stroke-width="0.5"/>
<line x1="382.20" y1="244.40" x2="382.20" y2="255.00" stroke="#000" stroke-width="1.1"/>
<line x1="380.30" y1="244.40" x2="384.10" y2="244.40" stroke="#000" stroke-width="1.1"/>
<rect x="379.10" y="255.50" width="6.20" height="49.70" fill="url(#dot)" stroke="#111" stroke-width="1.1"/>
<text x="359.20" y="258.00" font-size="14.6" font-weight="normal" font-style="normal" text-anchor="middle" fill="#000" >a</text>
<text x="362.80" y="242.00" font-size="14.6" font-weight="normal" font-style="normal" text-anchor="middle" fill="#000" >ab</text>
<text x="374.60" y="211.00" font-size="14.6" font-weight="normal" font-style="normal" text-anchor="middle" fill="#000" >b</text>
<line x1="370.60" y1="305.20" x2="370.60" y2="309.20" stroke="#000" stroke-width="1.4"/>
<text transform="translate(373.90,319.70) rotate(-45) scale(1.0,1)" font-size="14.1" font-weight="bold" font-style="normal" text-anchor="end">zip10</text>
<line x1="397.40" y1="271.00" x2="397.40" y2="274.40" stroke="#000" stroke-width="1.1"/>
<line x1="395.50" y1="271.00" x2="399.30" y2="271.00" stroke="#000" stroke-width="1.1"/>
<rect x="394.30" y="274.90" width="6.20" height="30.30" fill="#fff" stroke="#111" stroke-width="1.1"/>
<line x1="404.90" y1="227.00" x2="404.90" y2="236.00" stroke="#000" stroke-width="1.1"/>
<line x1="403.00" y1="227.00" x2="406.80" y2="227.00" stroke="#000" stroke-width="1.1"/>
<rect x="401.50" y="236.50" width="6.80" height="68.70" fill="url(#hC)" stroke="#111" stroke-width="1.1"/>
<line x1="412.80" y1="209.00" x2="412.80" y2="214.00" stroke="#000" stroke-width="1.1"/>
<line x1="410.90" y1="209.00" x2="414.70" y2="209.00" stroke="#000" stroke-width="1.1"/>
<rect x="408.80" y="214.00" width="8.00" height="91.20" fill="#000" stroke="#000" stroke-width="0.5"/>
<line x1="420.40" y1="249.60" x2="420.40" y2="266.60" stroke="#000" stroke-width="1.1"/>
<line x1="418.50" y1="249.60" x2="422.30" y2="249.60" stroke="#000" stroke-width="1.1"/>
<rect x="417.30" y="267.10" width="6.20" height="38.10" fill="url(#dot)" stroke="#111" stroke-width="1.1"/>
<text x="397.40" y="270.00" font-size="14.6" font-weight="normal" font-style="normal" text-anchor="middle" fill="#000" >a</text>
<text x="404.90" y="226.00" font-size="14.6" font-weight="normal" font-style="normal" text-anchor="middle" fill="#000" >b</text>
<text x="412.80" y="208.00" font-size="14.6" font-weight="normal" font-style="normal" text-anchor="middle" fill="#000" >b</text>
<line x1="408.80" y1="305.20" x2="408.80" y2="309.20" stroke="#000" stroke-width="1.4"/>
<text transform="translate(412.10,319.70) rotate(-45) scale(1.0,1)" font-size="14.1" font-weight="bold" font-style="normal" text-anchor="end">zip11</text>
<line x1="435.60" y1="265.00" x2="435.60" y2="274.40" stroke="#000" stroke-width="1.1"/>
<line x1="433.70" y1="265.00" x2="437.50" y2="265.00" stroke="#000" stroke-width="1.1"/>
<rect x="432.50" y="274.90" width="6.20" height="30.30" fill="#fff" stroke="#111" stroke-width="1.1"/>
<line x1="443.10" y1="263.00" x2="443.10" y2="273.00" stroke="#000" stroke-width="1.1"/>
<line x1="441.20" y1="263.00" x2="445.00" y2="263.00" stroke="#000" stroke-width="1.1"/>
<rect x="439.70" y="273.50" width="6.80" height="31.70" fill="url(#hC)" stroke="#111" stroke-width="1.1"/>
<line x1="451.00" y1="271.60" x2="451.00" y2="275.60" stroke="#000" stroke-width="1.1"/>
<line x1="449.10" y1="271.60" x2="452.90" y2="271.60" stroke="#000" stroke-width="1.1"/>
<rect x="447.00" y="275.60" width="8.00" height="29.60" fill="#000" stroke="#000" stroke-width="0.5"/>
<line x1="458.60" y1="267.00" x2="458.60" y2="275.00" stroke="#000" stroke-width="1.1"/>
<line x1="456.70" y1="267.00" x2="460.50" y2="267.00" stroke="#000" stroke-width="1.1"/>
<rect x="455.50" y="275.50" width="6.20" height="29.70" fill="url(#dot)" stroke="#111" stroke-width="1.1"/>
<text x="435.60" y="264.00" font-size="14.6" font-weight="normal" font-style="normal" text-anchor="middle" fill="#000" >a</text>
<text x="443.10" y="262.00" font-size="14.6" font-weight="normal" font-style="normal" text-anchor="middle" fill="#000" >a</text>
<text x="451.00" y="270.60" font-size="14.6" font-weight="normal" font-style="normal" text-anchor="middle" fill="#000" >a</text>
<line x1="447.00" y1="305.20" x2="447.00" y2="309.20" stroke="#000" stroke-width="1.4"/>
<text transform="translate(450.30,319.70) rotate(-45) scale(1.0,1)" font-size="14.1" font-weight="bold" font-style="normal" text-anchor="end">zip12</text>
<line x1="473.80" y1="273.40" x2="473.80" y2="274.40" stroke="#000" stroke-width="1.1"/>
<line x1="471.90" y1="273.40" x2="475.70" y2="273.40" stroke="#000" stroke-width="1.1"/>
<rect x="470.70" y="274.90" width="6.20" height="30.30" fill="#fff" stroke="#111" stroke-width="1.1"/>
<line x1="481.30" y1="252.00" x2="481.30" y2="261.60" stroke="#000" stroke-width="1.1"/>
<line x1="479.40" y1="252.00" x2="483.20" y2="252.00" stroke="#000" stroke-width="1.1"/>
<rect x="477.90" y="262.10" width="6.80" height="43.10" fill="url(#hC)" stroke="#111" stroke-width="1.1"/>
<line x1="489.20" y1="275.00" x2="489.20" y2="281.60" stroke="#000" stroke-width="1.1"/>
<line x1="487.30" y1="275.00" x2="491.10" y2="275.00" stroke="#000" stroke-width="1.1"/>
<rect x="485.20" y="281.60" width="8.00" height="23.60" fill="#000" stroke="#000" stroke-width="0.5"/>
<line x1="496.80" y1="274.40" x2="496.80" y2="278.00" stroke="#000" stroke-width="1.1"/>
<line x1="494.90" y1="274.40" x2="498.70" y2="274.40" stroke="#000" stroke-width="1.1"/>
<rect x="493.70" y="278.50" width="6.20" height="26.70" fill="url(#dot)" stroke="#111" stroke-width="1.1"/>
<text x="473.80" y="273.00" font-size="14.6" font-weight="normal" font-style="normal" text-anchor="middle" fill="#000" >a</text>
<text x="481.30" y="251.00" font-size="14.6" font-weight="normal" font-style="normal" text-anchor="middle" fill="#000" >a</text>
<text x="489.20" y="274.00" font-size="14.6" font-weight="normal" font-style="normal" text-anchor="middle" fill="#000" >a</text>
<line x1="485.20" y1="305.20" x2="485.20" y2="309.20" stroke="#000" stroke-width="1.4"/>
<text transform="translate(488.50,319.70) rotate(-45) scale(1.0,1)" font-size="14.1" font-weight="bold" font-style="normal" text-anchor="end">zip13</text>
<line x1="512.00" y1="273.40" x2="512.00" y2="274.40" stroke="#000" stroke-width="1.1"/>
<line x1="510.10" y1="273.40" x2="513.90" y2="273.40" stroke="#000" stroke-width="1.1"/>
<rect x="508.90" y="274.90" width="6.20" height="30.30" fill="#fff" stroke="#111" stroke-width="1.1"/>
<line x1="519.50" y1="274.00" x2="519.50" y2="276.40" stroke="#000" stroke-width="1.1"/>
<line x1="517.60" y1="274.00" x2="521.40" y2="274.00" stroke="#000" stroke-width="1.1"/>
<rect x="516.10" y="276.90" width="6.80" height="28.30" fill="url(#hC)" stroke="#111" stroke-width="1.1"/>
<line x1="527.40" y1="287.40" x2="527.40" y2="288.40" stroke="#000" stroke-width="1.1"/>
<line x1="525.50" y1="287.40" x2="529.30" y2="287.40" stroke="#000" stroke-width="1.1"/>
<rect x="523.40" y="288.40" width="8.00" height="16.80" fill="#000" stroke="#000" stroke-width="0.5"/>
<line x1="535.00" y1="286.40" x2="535.00" y2="287.40" stroke="#000" stroke-width="1.1"/>
<line x1="533.10" y1="286.40" x2="536.90" y2="286.40" stroke="#000" stroke-width="1.1"/>
<rect x="531.90" y="287.90" width="6.20" height="17.30" fill="url(#dot)" stroke="#111" stroke-width="1.1"/>
<text x="512.00" y="273.60" font-size="14.6" font-weight="normal" font-style="normal" text-anchor="middle" fill="#000" >b</text>
<text x="519.50" y="273.60" font-size="14.6" font-weight="normal" font-style="normal" text-anchor="middle" fill="#000" >b</text>
<text x="527.40" y="286.00" font-size="14.6" font-weight="normal" font-style="normal" text-anchor="middle" fill="#000" >a</text>
<line x1="523.40" y1="305.20" x2="523.40" y2="309.20" stroke="#000" stroke-width="1.4"/>
<text transform="translate(526.70,319.70) rotate(-45) scale(1.0,1)" font-size="14.1" font-weight="bold" font-style="normal" text-anchor="end">zip14</text>
<line x1="413.00" y1="195.00" x2="426.40" y2="195.00" stroke="#222" stroke-width="1.4"/>
<text x="419.60" y="196.40" font-size="11" font-weight="bold" font-style="normal" text-anchor="middle" fill="#000" >*</text>
</g>
<g id="panelD">
<text x="11.00" y="362.00" font-size="14.5" font-weight="normal" font-style="normal" text-anchor="start" fill="#000" >D</text>
<text x="102.00" y="380.80" font-size="9.5" font-weight="bold" font-style="normal" text-anchor="middle" fill="#000" >Control</text>
<text x="158.00" y="380.80" font-size="9.5" font-weight="bold" font-style="normal" text-anchor="middle" fill="#000" >L-Zn</text>
<text x="216.60" y="380.80" font-size="9.5" font-weight="bold" font-style="normal" text-anchor="middle" fill="#000" >H-Zn</text>
<text x="277.40" y="380.80" font-size="9.8" font-weight="bold" font-style="normal" text-anchor="middle" fill="#000" >H-Zn+TPEN</text>
<line x1="69.70" y1="386.00" x2="124.00" y2="386.00" stroke="#000" stroke-width="1.6"/>
<line x1="130.00" y1="386.00" x2="184.00" y2="386.00" stroke="#000" stroke-width="1.6"/>
<line x1="188.40" y1="386.00" x2="243.60" y2="386.00" stroke="#000" stroke-width="1.6"/>
<line x1="247.20" y1="386.00" x2="302.60" y2="386.00" stroke="#000" stroke-width="1.6"/>
<text x="57.20" y="409.20" font-size="9.8" font-weight="bold" font-style="normal" text-anchor="end" fill="#000" >DYNAMIN1</text>
<text x="58.40" y="450.60" font-size="9.9" font-weight="bold" font-style="normal" text-anchor="end" fill="#000" >GAPDH</text>
<text x="312.60" y="410.20" font-size="11" font-weight="bold" font-style="normal" text-anchor="start" fill="#000" >100 kDa</text>
<text x="319.00" y="448.00" font-size="11" font-weight="bold" font-style="normal" text-anchor="start" fill="#000" >36 kDa</text>
<clipPath id="c1"><rect x="65.4" y="394.8" width="241.4" height="23.6"/></clipPath>
<clipPath id="c2"><rect x="65.4" y="432" width="241.4" height="23.2"/></clipPath>
<rect x="64.80" y="394.20" width="242.60" height="24.60" fill="#f4f4f4" stroke="#111" stroke-width="1.3"/>
<g clip-path="url(#c1)">
<rect x="66" y="395.2" width="240" height="23" fill="url(#bg1)"/>
<rect x="66" y="395.2" width="240" height="23" fill="url(#bgh)"/>
<g filter="url(#bl3)">
<rect x="68.1" y="400.7" width="16.4" height="20" fill="#505050" opacity="0.29"/>
<rect x="87.9" y="400.8" width="16.4" height="20" fill="#505050" opacity="0.27"/>
<rect x="108.0" y="401.6" width="17.5" height="20" fill="#505050" opacity="0.37"/>
<rect x="127.9" y="401.2" width="16.6" height="20" fill="#505050" opacity="0.29"/>
<rect x="147.0" y="401.3" width="18.9" height="20" fill="#505050" opacity="0.41"/>
<rect x="168.2" y="401.2" width="15.7" height="20" fill="#505050" opacity="0.34"/>
<rect x="187.8" y="401.6" width="16.3" height="20" fill="#505050" opacity="0.15"/>
<rect x="206.7" y="401.8" width="16.3" height="20" fill="#505050" opacity="0.14"/>
<rect x="225.5" y="401.8" width="17.6" height="20" fill="#505050" opacity="0.21"/>
<rect x="245.7" y="402.2" width="17.8" height="20" fill="#505050" opacity="0.44"/>
<rect x="265.8" y="402.8" width="15.7" height="20" fill="#505050" opacity="0.28"/>
<rect x="285.9" y="401.4" width="17.6" height="20" fill="#505050" opacity="0.41"/>
</g>
<g filter="url(#bl1)">
<rect x="69.2" y="402.3" width="14.2" height="4.4" rx="2" fill="#1c1c1c" opacity="0.57"/>
<rect x="89.0" y="402.4" width="14.2" height="4.4" rx="2" fill="#1c1c1c" opacity="0.53"/>
<rect x="109.1" y="403.2" width="15.3" height="4.4" rx="2" fill="#1c1c1c" opacity="0.74"/>
<rect x="129.0" y="402.8" width="14.4" height="4.4" rx="2" fill="#1c1c1c" opacity="0.57"/>
<rect x="148.1" y="402.9" width="16.7" height="4.4" rx="2" fill="#1c1c1c" opacity="0.83"/>
<rect x="169.3" y="402.8" width="13.5" height="4.4" rx="2" fill="#1c1c1c" opacity="0.68"/>
<rect x="188.9" y="403.2" width="14.1" height="4.4" rx="2" fill="#1c1c1c" opacity="0.30"/>
<rect x="207.8" y="403.4" width="14.1" height="4.4" rx="2" fill="#1c1c1c" opacity="0.28"/>
<rect x="226.6" y="403.4" width="15.4" height="4.4" rx="2" fill="#1c1c1c" opacity="0.41"/>
<rect x="246.8" y="403.8" width="15.6" height="4.4" rx="2" fill="#1c1c1c" opacity="0.87"/>
<rect x="266.9" y="404.4" width="13.5" height="4.4" rx="2" fill="#1c1c1c" opacity="0.55"/>
<rect x="287.0" y="403.0" width="15.4" height="4.4" rx="2" fill="#1c1c1c" opacity="0.83"/>
<path d="M253 406 L262.4 405.6 L262.8 412.6 L256.5 412 Z" fill="#111" opacity="0.9"/>
</g>
<rect x="66" y="395.2" width="240" height="23" filter="url(#noise)" opacity="0.16"/>
</g>
<rect x="64.80" y="394.20" width="242.60" height="24.60" fill="none" stroke="#1a1a1a" stroke-width="1.15"/>
<rect x="64.80" y="431.20" width="242.60" height="24.40" fill="#f6f6f6" stroke="#111" stroke-width="1.3"/>
<g clip-path="url(#c2)">
<rect x="66" y="432.2" width="240" height="22.6" fill="url(#bg2)"/>
<g filter="url(#bl2)">
<rect x="67.1" y="442.80" width="14.2" height="4.8" rx="2.40" fill="#050505" opacity="1"/>
<rect x="85.5" y="442.60" width="15.1" height="5.2" rx="2.60" fill="#050505" opacity="1"/>
<rect x="106.1" y="442.60" width="14.5" height="5.2" rx="2.60" fill="#050505" opacity="1"/>
<rect x="125.2" y="443.15" width="14.6" height="4.1" rx="2.05" fill="#050505" opacity="0.95"/>
<rect x="145.2" y="443.15" width="14.8" height="4.1" rx="2.05" fill="#050505" opacity="0.92"/>
<rect x="166.4" y="442.90" width="14.4" height="4.6" rx="2.30" fill="#050505" opacity="1"/>
<rect x="186.6" y="442.90" width="14.7" height="4.6" rx="2.30" fill="#050505" opacity="1"/>
<rect x="206.5" y="442.80" width="16.1" height="4.8" rx="2.40" fill="#050505" opacity="1"/>
<rect x="227.3" y="442.80" width="15.3" height="4.8" rx="2.40" fill="#050505" opacity="1"/>
<rect x="247.4" y="443.20" width="14.2" height="4.0" rx="2.00" fill="#050505" opacity="0.97"/>
<rect x="267.0" y="443.00" width="13.5" height="4.4" rx="2.20" fill="#050505" opacity="1"/>
<rect x="285.9" y="443.00" width="16.0" height="4.4" rx="2.20" fill="#050505" opacity="1"/>
</g>
<rect x="66" y="432.2" width="240" height="22.6" filter="url(#noise)" opacity="0.07"/>
</g>
<rect x="64.80" y="431.20" width="242.60" height="24.40" fill="none" stroke="#1a1a1a" stroke-width="1.15"/>
</g>
<g id="panelE">
<text x="344.60" y="361.50" font-size="14.5" font-weight="normal" font-style="normal" text-anchor="start" fill="#000" >E</text>
<line x1="393.20" y1="360.00" x2="393.20" y2="452.50" stroke="#000" stroke-width="1.15"/>
<line x1="392.50" y1="451.80" x2="537.80" y2="451.80" stroke="#000" stroke-width="1.5"/>
<line x1="390.00" y1="451.80" x2="393.20" y2="451.80" stroke="#000" stroke-width="1.2"/>
<text x="389.00" y="455.10" font-size="9.2" font-weight="bold" font-style="normal" text-anchor="end" fill="#000" >0.0</text>
<line x1="390.00" y1="421.40" x2="393.20" y2="421.40" stroke="#000" stroke-width="1.2"/>
<text x="389.00" y="424.70" font-size="9.2" font-weight="bold" font-style="normal" text-anchor="end" fill="#000" >0.5</text>
<line x1="390.00" y1="391.00" x2="393.20" y2="391.00" stroke="#000" stroke-width="1.2"/>
<text x="389.00" y="394.30" font-size="9.2" font-weight="bold" font-style="normal" text-anchor="end" fill="#000" >1.0</text>
<line x1="390.00" y1="360.60" x2="393.20" y2="360.60" stroke="#000" stroke-width="1.2"/>
<text x="389.00" y="363.90" font-size="9.2" font-weight="bold" font-style="normal" text-anchor="end" fill="#000" >1.5</text>
<text transform="translate(370.00,403.20) rotate(-90) scale(1.0,1)" font-size="9" font-weight="bold" font-style="normal" text-anchor="middle">DYNAMIN1/GAPDH ratio</text>
<line x1="411.00" y1="387.60" x2="411.00" y2="391.00" stroke="#000" stroke-width="1.3"/>
<line x1="405.00" y1="387.60" x2="417.00" y2="387.60" stroke="#000" stroke-width="1.3"/>
<rect x="398.50" y="391.00" width="25.00" height="60.80" fill="#000" stroke="none" stroke-width="0"/>
<line x1="411.00" y1="451.80" x2="411.00" y2="455.40" stroke="#000" stroke-width="1.2"/>
<text x="411.00" y="386.20" font-size="9.5" font-weight="normal" font-style="normal" text-anchor="middle" fill="#000" >b</text>
<line x1="447.50" y1="386.60" x2="447.50" y2="390.40" stroke="#000" stroke-width="1.3"/>
<line x1="441.50" y1="386.60" x2="453.50" y2="386.60" stroke="#000" stroke-width="1.3"/>
<rect x="435.00" y="390.40" width="25.00" height="61.40" fill="#000" stroke="none" stroke-width="0"/>
<line x1="447.50" y1="451.80" x2="447.50" y2="455.40" stroke="#000" stroke-width="1.2"/>
<text x="447.50" y="385.20" font-size="9.5" font-weight="normal" font-style="normal" text-anchor="middle" fill="#000" >b</text>
<line x1="484.00" y1="415.60" x2="484.00" y2="419.00" stroke="#000" stroke-width="1.3"/>
<line x1="478.00" y1="415.60" x2="490.00" y2="415.60" stroke="#000" stroke-width="1.3"/>
<rect x="471.50" y="419.00" width="25.00" height="32.80" fill="#000" stroke="none" stroke-width="0"/>
<line x1="484.00" y1="451.80" x2="484.00" y2="455.40" stroke="#000" stroke-width="1.2"/>
<text x="484.00" y="414.20" font-size="9.5" font-weight="normal" font-style="normal" text-anchor="middle" fill="#000" >a</text>
<line x1="520.50" y1="384.60" x2="520.50" y2="388.40" stroke="#000" stroke-width="1.3"/>
<line x1="514.50" y1="384.60" x2="526.50" y2="384.60" stroke="#000" stroke-width="1.3"/>
<rect x="508.00" y="388.40" width="25.00" height="63.40" fill="#000" stroke="none" stroke-width="0"/>
<line x1="520.50" y1="451.80" x2="520.50" y2="455.40" stroke="#000" stroke-width="1.2"/>
<line x1="484.00" y1="379.00" x2="521.00" y2="379.00" stroke="#555" stroke-width="1.4"/>
<text x="502.00" y="378.20" font-size="8" font-weight="bold" font-style="normal" text-anchor="middle" fill="#000" >*</text>
<text transform="translate(413.40,460.80) rotate(-46) scale(1.0,1)" font-size="9.6" font-weight="bold" font-style="normal" text-anchor="end">Control</text>
<text transform="translate(449.90,460.80) rotate(-46) scale(1.0,1)" font-size="9.6" font-weight="bold" font-style="normal" text-anchor="end">L-Zn</text>
<text transform="translate(486.40,460.80) rotate(-46) scale(1.0,1)" font-size="9.6" font-weight="bold" font-style="normal" text-anchor="end">H-Zn</text>
<text transform="translate(522.90,460.80) rotate(-46) scale(1.0,1)" font-size="9.6" font-weight="bold" font-style="normal" text-anchor="end">H-Zn+TPEN</text>
</g>
</svg></body></html>
